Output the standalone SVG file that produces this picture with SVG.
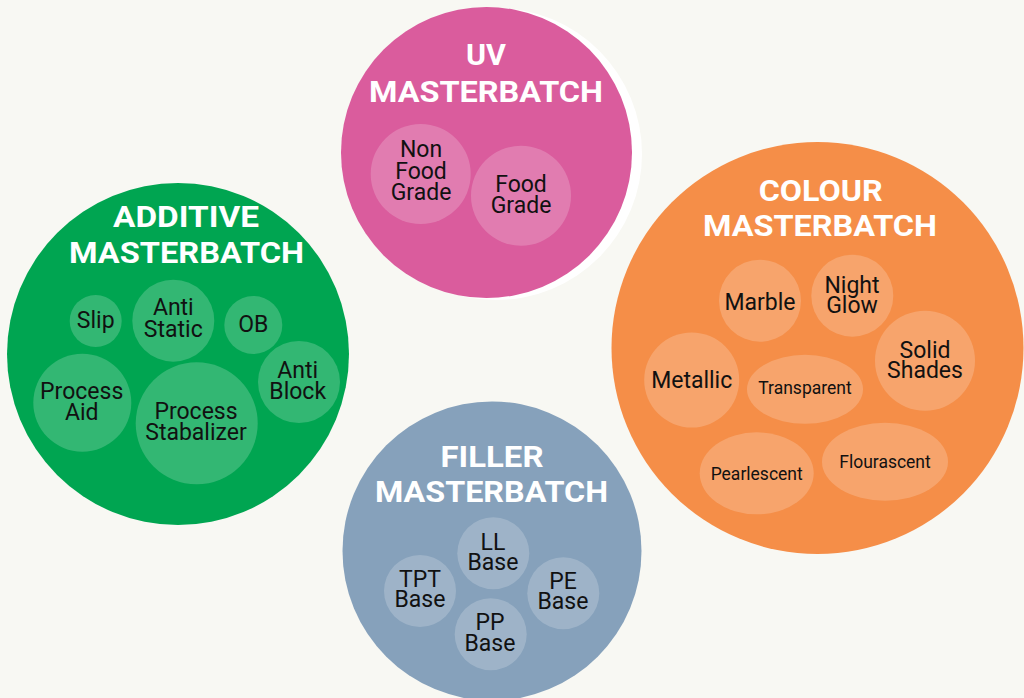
<svg xmlns="http://www.w3.org/2000/svg" width="1024" height="698" viewBox="0 0 1024 698">
<style>
.title{font-family:Roboto,"Liberation Sans",sans-serif;font-weight:700;font-size:30px;fill:#ffffff;text-anchor:middle}
.lbl{font-family:Roboto,"Liberation Sans",sans-serif;font-size:23px;fill:#111111;text-anchor:middle}
.sm{font-family:Roboto,"Liberation Sans",sans-serif;font-size:17.5px;fill:#111111;text-anchor:middle}
.sub{fill:#ffffff;fill-opacity:0.2}
</style>
<rect x="0" y="0" width="1024" height="698" fill="#f8f8f3"/>

<g id="uv">
<circle cx="496" cy="154" r="146" fill="#ffffff"/>
<circle cx="486.5" cy="152.5" r="145.5" fill="#da5c9d"/>
<text class="title" x="486" y="65" textLength="40" lengthAdjust="spacingAndGlyphs">UV</text>
<text class="title" x="486" y="101.7" textLength="234" lengthAdjust="spacingAndGlyphs">MASTERBATCH</text>
<g id="uv-nonfood"><circle class="sub" cx="420.7" cy="174" r="50"/>
<text class="lbl" x="421" y="157.3">Non</text><text class="lbl" x="421" y="179">Food</text><text class="lbl" x="421" y="200">Grade</text></g>
<g id="uv-food"><circle class="sub" cx="521" cy="195.7" r="50"/>
<text class="lbl" x="521" y="191.7">Food</text><text class="lbl" x="521" y="213.3">Grade</text></g>
</g>

<g id="additive">
<circle cx="178" cy="354" r="171" fill="#00a551"/>
<text class="title" x="186" y="227.3" textLength="146" lengthAdjust="spacingAndGlyphs">ADDITIVE</text>
<text class="title" x="186.5" y="263.3" textLength="235" lengthAdjust="spacingAndGlyphs">MASTERBATCH</text>
<g id="add-slip"><circle class="sub" cx="95.7" cy="321" r="26"/><text class="lbl" x="95.7" y="327.7">Slip</text></g>
<g id="add-antistatic"><circle class="sub" cx="173.3" cy="320.7" r="41"/><text class="lbl" x="173.3" y="315">Anti</text><text class="lbl" x="173.3" y="336.7">Static</text></g>
<g id="add-ob"><circle class="sub" cx="253.3" cy="325" r="29"/><text class="lbl" x="253.3" y="332.3">OB</text></g>
<g id="add-antiblock"><circle class="sub" cx="299" cy="382" r="41"/><text class="lbl" x="297.7" y="378.3">Anti</text><text class="lbl" x="297.7" y="399">Block</text></g>
<g id="add-processaid"><circle class="sub" cx="82.3" cy="402.7" r="49"/><text class="lbl" x="81.7" y="399">Process</text><text class="lbl" x="81.7" y="420">Aid</text></g>
<g id="add-stabalizer"><circle class="sub" cx="196.7" cy="423.3" r="61"/><text class="lbl" x="196" y="419.3">Process</text><text class="lbl" x="196" y="440">Stabalizer</text></g>
</g>

<g id="colour">
<circle cx="817.5" cy="348" r="206" fill="#f58e48"/>
<text class="title" x="820.7" y="200.5" textLength="124" lengthAdjust="spacingAndGlyphs">COLOUR</text>
<text class="title" x="820" y="236" textLength="234" lengthAdjust="spacingAndGlyphs">MASTERBATCH</text>
<g id="col-marble"><circle class="sub" cx="760" cy="300.7" r="41"/><text class="lbl" x="760" y="310">Marble</text></g>
<g id="col-nightglow"><circle class="sub" cx="852.3" cy="295.7" r="41"/><text class="lbl" x="852" y="292.7">Night</text><text class="lbl" x="852" y="313.3">Glow</text></g>
<g id="col-solid"><circle class="sub" cx="925" cy="360.7" r="50"/><text class="lbl" x="925" y="358.3">Solid</text><text class="lbl" x="925" y="378.3">Shades</text></g>
<g id="col-metallic"><circle class="sub" cx="691.7" cy="380" r="47.5"/><text class="lbl" x="691.7" y="388.3">Metallic</text></g>
<g id="col-transparent"><ellipse class="sub" cx="805" cy="389.3" rx="58" ry="34.5"/><text class="sm" x="805" y="394.3">Transparent</text></g>
<g id="col-pearlescent"><ellipse class="sub" cx="756.7" cy="473.3" rx="57" ry="41"/><text class="sm" x="756.7" y="480">Pearlescent</text></g>
<g id="col-flourascent"><ellipse class="sub" cx="885" cy="461.7" rx="63" ry="39"/><text class="sm" x="885" y="468.3">Flourascent</text></g>
</g>

<g id="filler">
<circle cx="492" cy="551" r="149.5" fill="#86a1bb"/>
<text class="title" x="492" y="466.7" textLength="103" lengthAdjust="spacingAndGlyphs">FILLER</text>
<text class="title" x="491.5" y="502.3" textLength="233" lengthAdjust="spacingAndGlyphs">MASTERBATCH</text>
<g id="fil-ll"><circle class="sub" cx="493.3" cy="553.3" r="36"/><text class="lbl" x="493" y="550">LL</text><text class="lbl" x="493" y="570">Base</text></g>
<g id="fil-tpt"><circle class="sub" cx="420" cy="591" r="36"/><text class="lbl" x="420" y="586.7">TPT</text><text class="lbl" x="420" y="607.3">Base</text></g>
<g id="fil-pe"><circle class="sub" cx="563.3" cy="593.3" r="36"/><text class="lbl" x="563" y="589">PE</text><text class="lbl" x="563" y="609">Base</text></g>
<g id="fil-pp"><circle class="sub" cx="490.7" cy="634.3" r="36"/><text class="lbl" x="490" y="630">PP</text><text class="lbl" x="490" y="650.7">Base</text></g>
</g>
<g id="connectors"></g>
</svg>
